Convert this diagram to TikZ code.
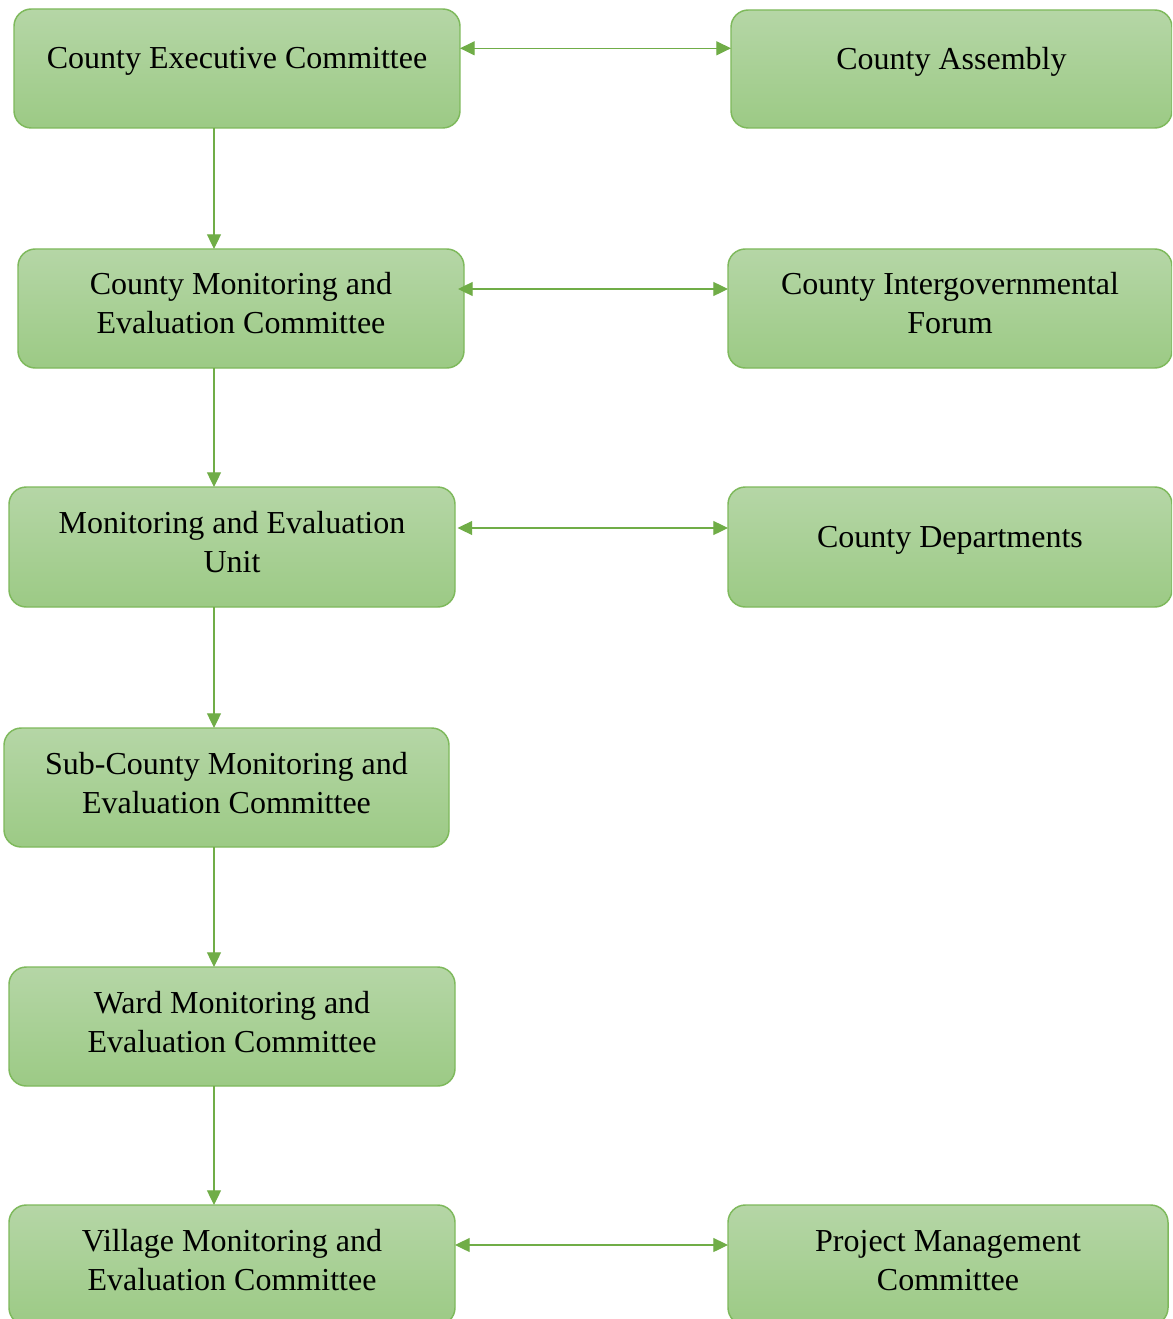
\documentclass[tikz,border=0pt]{standalone}
\usepackage{fontspec}
\setmainfont{Liberation Serif}
\usetikzlibrary{arrows.meta,fit}
\definecolor{gtop}{RGB}{181,214,166}
\definecolor{gbot}{RGB}{156,202,133}
\definecolor{gline}{RGB}{126,185,92}
\definecolor{garrow}{RGB}{112,173,71}
\tikzset{
  box/.style={draw=gline, line width=1.1pt, rounded corners=13pt, top color=gtop, bottom color=gbot, inner sep=0pt, outer sep=0pt},
  lbl/.style={anchor=base, inner sep=0pt, font=\fontsize{24}{29.25}\selectfont, text=black},
  arr/.style={draw=garrow, line width=0.9pt, -{Triangle[length=11pt,width=10.5pt]}},
  darr/.style={draw=garrow, line width=0.9pt, {Triangle[length=11pt,width=10.5pt]}-{Triangle[length=11pt,width=10.5pt]}}
}
\newcommand{\twolines}[2]{\begin{tabular}[t]{@{}c@{}}#1\\#2\end{tabular}}
\begin{document}
\begin{tikzpicture}[x=0.75pt,y=-0.75pt]
\clip (0,0) rectangle (1172,1319);
\fill[white] (0,0) rectangle (1172,1319);
% boxes
\node[box, fit={(14,9) (460,128)}] (cec) {};
\node[box, fit={(731,10) (1172,128)}] (ca) {};
\node[box, fit={(18,249) (464,368)}] (cmec) {};
\node[box, fit={(728,249) (1172,368)}] (cif) {};
\node[box, fit={(9,487) (455,607)}] (meu) {};
\node[box, fit={(728,487) (1172,607)}] (cd) {};
\node[box, fit={(4,728) (449,847)}] (scmec) {};
\node[box, fit={(9,967) (455,1086)}] (wmec) {};
\node[box, fit={(9,1205) (455,1325)}] (vmec) {};
\node[box, fit={(728,1205) (1168,1325)}] (pmc) {};
% texts
\node[lbl] (cect) at ([yshift=-45pt]cec.north) {County Executive Committee};
\node[lbl] (cat) at ([yshift=-45pt]ca.north) {County Assembly};
\node[lbl] (cmect) at ([yshift=-34.5pt]cmec.north) {\twolines{County Monitoring and}{Evaluation Committee}};
\node[lbl] (cift) at ([yshift=-34.5pt]cif.north) {\twolines{County Intergovernmental}{Forum}};
\node[lbl] (meut) at ([yshift=-34.5pt]meu.north) {\twolines{Monitoring and Evaluation}{Unit}};
\node[lbl] (cdt) at ([yshift=-45pt]cd.north) {County Departments};
\node[lbl] (scmect) at ([yshift=-34.5pt]scmec.north) {\twolines{Sub-County Monitoring and}{Evaluation Committee}};
\node[lbl] (wmect) at ([yshift=-34.5pt]wmec.north) {\twolines{Ward Monitoring and}{Evaluation Committee}};
\node[lbl] (vmect) at ([yshift=-34.5pt]vmec.north) {\twolines{Village Monitoring and}{Evaluation Committee}};
\node[lbl] (pmct) at ([yshift=-34.5pt]pmc.north) {\twolines{Project Management}{Committee}};
% guide coordinates
\coordinate (vx) at (214,0);
\coordinate (h1) at (0,48.3);
\coordinate (h2) at (0,289);
\coordinate (h3) at (0,528);
\coordinate (h4) at (0,1245);
% vertical arrows
\draw[arr] (vx |- cec.south) -- (vx |- cmec.north);
\draw[arr] (vx |- cmec.south) -- (vx |- meu.north);
\draw[arr] (vx |- meu.south) -- (vx |- scmec.north);
\draw[arr] (vx |- scmec.south) -- (vx |- wmec.north);
\draw[arr] (vx |- wmec.south) -- (vx |- vmec.north);
% horizontal arrows
\draw[darr] (cec.east |- h1) -- (ca.west |- h1);
\draw[darr] ([xshift=-4.5pt]cmec.east |- h2) -- (cif.west |- h2);
\draw[darr] ([xshift=1.9pt]meu.east |- h3) -- (cd.west |- h3);
\draw[darr] (vmec.east |- h4) -- (pmc.west |- h4);
\end{tikzpicture}
\end{document}
